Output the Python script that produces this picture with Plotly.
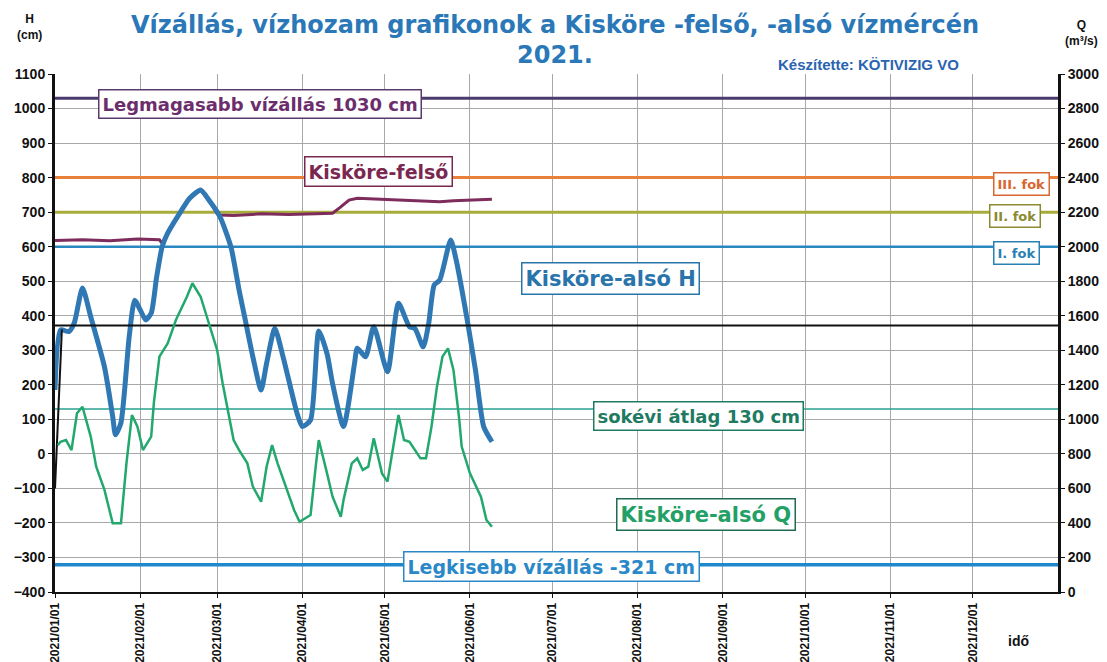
import plotly.graph_objects as go
import pandas as pd

# ---------------- data ----------------
year_start = "2021-01-01"
year_end = "2022-01-01"

# Kisköre-alsó H (cm), day offsets from 2021-01-01
alsoH_day = [0, 2, 5, 7, 10, 13, 18, 21, 22, 24, 27, 29, 31, 33, 35, 37, 39, 41, 45, 49, 53,
             56, 60, 64, 67, 69, 72, 75, 77, 80, 83, 88, 90, 93, 96, 99, 101, 105, 109, 110,
             113, 116, 121, 125, 129, 131, 134, 136, 138, 140, 144, 146, 150, 153, 156, 159]
alsoH_cm = [185, 359, 354, 379, 480, 397, 252, 108, 55, 90, 339, 445, 417, 388, 407, 513, 600,
            639, 692, 740, 764, 735, 687, 600, 474, 397, 281, 185, 262, 363, 281, 120, 79, 98,
            356, 290, 204, 79, 262, 306, 281, 368, 238, 436, 368, 363, 310, 378, 489, 503, 619,
            561, 388, 243, 79, 35]

# Kisköre-alsó Q (m3/s)
alsoQ_day = [1, 2, 4, 6, 8, 10, 13, 15, 18, 21, 24, 26, 28, 30, 32, 34, 35, 36, 37, 38, 41, 44,
             48, 50, 53, 56, 59, 61, 63, 65, 67, 70, 72, 75, 77, 79, 81, 84, 87, 89, 93, 95, 96,
             99, 101, 104, 105, 108, 110, 112, 114, 116, 119, 121, 125, 127, 129, 133, 135, 137,
             139, 141, 143, 145, 147, 148, 151, 155, 157, 159]
alsoQ_m3s = [850, 870, 880, 822, 1035, 1073, 900, 726, 591, 398, 398, 745, 1025, 957, 822, 870,
             900, 1100, 1228, 1363, 1440, 1575, 1710, 1788, 1710, 1556, 1402, 1209, 1035, 880,
             822, 745, 610, 523, 726, 851, 745, 610, 475, 407, 446, 745, 880, 687, 552, 436, 533,
             745, 774, 707, 726, 890, 687, 639, 1025, 880, 870, 774, 774, 957, 1189, 1363, 1411,
             1286, 1015, 842, 687, 552, 417, 378]

# Kisköre-felső H (cm)
felso_day = [0, 10, 20, 30, 38, 39, 41, 45, 49, 53, 56, 59, 60, 65, 75, 85, 95, 101, 104, 107,
             110, 120, 130, 140, 145, 150, 159]
felso_cm = [618, 620, 617, 622, 620, 610, 639, 692, 740, 764, 735, 695, 692, 690, 695, 693, 695,
            697, 715, 735, 740, 737, 735, 730, 733, 735, 737]

# reference levels (cm)
ref_labels = ["Legmagasabb vízállás 1030 cm", "III. fok", "II. fok", "I. fok",
              "sokévi átlag 130 cm", "Legkisebb vízállás -321 cm"]
ref_levels = [1030, 800, 700, 600, 130, -321]
ref_colors = ["#4b3a6e", "#e8803a", "#a8ac3a", "#2a88c0", "#2aa090", "#1f88cc"]
ref_widths = [3, 3, 3, 2.5, 1.5, 3.5]

mean_line_cm = 372
start_seg_day = [0, 2.5]
start_seg_cm = [-100, 360]

month_ticks = pd.date_range(year_start, periods=12, freq="MS")
tick_text = [d.strftime("%Y/%m/%d") for d in month_ticks]

t0 = pd.Timestamp(year_start)


def to_dates(days):
    return [t0 + pd.Timedelta(days=float(d)) for d in days]


FONT = "Liberation Sans"
WIDE = "DejaVu Sans"

fig = go.Figure()

for lab, lev, col, w in zip(ref_labels, ref_levels, ref_colors, ref_widths):
    fig.add_trace(go.Scatter(x=[year_start, year_end], y=[lev, lev], mode="lines",
                             line=dict(color=col, width=w), name=lab, hoverinfo="skip"))

fig.add_trace(go.Scatter(x=to_dates(felso_day), y=felso_cm, mode="lines",
                         line=dict(color="#7e2c5c", width=3), name="Kisköre-felső"))
fig.add_trace(go.Scatter(x=to_dates(alsoQ_day), y=alsoQ_m3s, mode="lines", yaxis="y2",
                         line=dict(color="#22a86c", width=2.5), name="Kisköre-alsó Q"))
fig.add_trace(go.Scatter(x=to_dates(alsoH_day), y=alsoH_cm, mode="lines",
                         line=dict(color="#2f78b4", width=5, shape="spline", smoothing=0.6),
                         name="Kisköre-alsó H"))
fig.add_trace(go.Scatter(x=[year_start, year_end], y=[mean_line_cm] * 2, mode="lines",
                         line=dict(color="#111111", width=2), showlegend=False, hoverinfo="skip"))
fig.add_trace(go.Scatter(x=to_dates(start_seg_day), y=start_seg_cm, mode="lines",
                         line=dict(color="#111111", width=2), showlegend=False, hoverinfo="skip"))

# page-pixel geometry of the plot area (page has an 8px body margin)
OFF = 8
W, H = 1107 - OFF, 662 - OFF
L, R, T, B = 55, 1058, 74, 592


def px(x):
    return (x - L) / (R - L)


def py(y):
    return (B - y) / (B - T)


def box(text, x, y, color, size=17, border=None, family=WIDE):
    return dict(text="<b>%s</b>" % text, x=px(x), y=py(y), xref="paper", yref="paper",
                showarrow=False, font=dict(family=family, size=size, color=color),
                bgcolor="white", bordercolor=border or color, borderwidth=1.5, borderpad=3,
                xanchor="center", yanchor="middle")


def txt(text, x, y, size, color="#111", family=FONT):
    return dict(text="<b>%s</b>" % text, x=px(x), y=py(y), xref="paper", yref="paper",
                showarrow=False, font=dict(family=family, size=size, color=color),
                xanchor="center", yanchor="middle")


annotations = [
    box("Legmagasabb vízállás 1030 cm", 260, 104, "#6b2d6b", 18, "#5a3a6a"),
    box("Kisköre-felső", 378, 172, "#7a2850", 19),
    box("Kisköre-alsó H", 610, 278, "#2a74ac", 21),
    box("sokévi átlag 130 cm", 698, 416, "#1f7a62", 18),
    box("Kisköre-alsó Q", 706, 514, "#22a065", 21, "#1f6a50"),
    box("Legkisebb vízállás -321 cm", 551, 566, "#2a88c8", 19),
    box("III. fok", 1021, 184, "#d8662e", 13),
    box("II. fok", 1015, 216, "#8a8a30", 13),
    box("I. fok", 1016, 253, "#2a80b4", 13),
    txt("Vízállás, vízhozam grafikonok a Kisköre -felső, -alsó vízmércén",
        555, 25, 24, "#2a78b8", WIDE),
    txt("2021.", 555, 55, 24, "#2a78b8", WIDE),
    txt("Készítette: KÖTIVIZIG VO", 868, 64, 15, "#2a64b0"),
    txt("H<br>(cm)", 29, 27, 12),
    txt("Q<br>(m³/s)", 1081, 33, 12),
    txt("idő", 1018, 641, 14),
]

axis_common = dict(showline=True, linecolor="#111", ticks="outside", ticklen=4,
                   tickcolor="#111", zeroline=False, automargin=False)

fig.update_layout(
    width=W, height=H,
    margin=dict(l=L - OFF, r=W - (R - OFF), t=T - OFF, b=H - (B - OFF), autoexpand=False),
    paper_bgcolor="white", plot_bgcolor="white",
    showlegend=False,
    font=dict(family=FONT, color="#111"),
    annotations=annotations,
    xaxis=dict(type="date", range=[year_start, year_end], tickvals=list(month_ticks),
               ticktext=tick_text, tickangle=-90,
               tickfont=dict(family=FONT, size=12, color="#111", weight="bold"),
               showgrid=True, gridcolor="#a8a8a8", gridwidth=1, linewidth=2, **axis_common),
    yaxis=dict(range=[-400, 1100], dtick=100, tick0=0,
               tickfont=dict(family=FONT, size=14, color="#111", weight="bold"),
               showgrid=True, gridcolor="#a8a8a8", gridwidth=1, linewidth=3, **axis_common),
    yaxis2=dict(range=[0, 3000], dtick=200, tick0=0, overlaying="y", side="right",
                tickfont=dict(family=FONT, size=14, color="#111", weight="bold"),
                showgrid=False, linewidth=3, **axis_common),
)

fig.write_html("out.html")
